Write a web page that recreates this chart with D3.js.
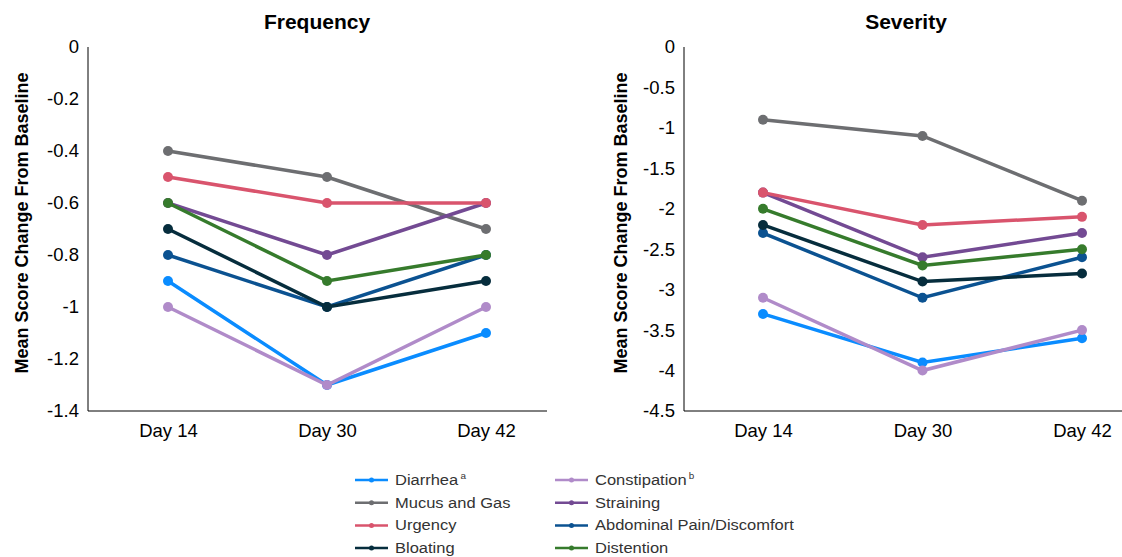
<!DOCTYPE html>
<html>
<head>
<meta charset="utf-8">
<script src="https://cdn.jsdelivr.net/npm/d3@7"></script>
<style>
  body { margin: 0; background: #fff; }
  svg { display: block; font-family: 'Liberation Sans', Arial, Helvetica, sans-serif; }
</style>
</head>
<body>
<div class="canvas"></div>
<script>
// categories and series (draw order = legend order, row-wise)
const days = ['Day 14', 'Day 30', 'Day 42']
const symptoms = ['Diarrhea', 'Constipation', 'Mucus and Gas', 'Straining',
  'Urgency', 'Abdominal Pain/Discomfort', 'Bloating', 'Distention']
const superscripts = ['a', 'b', '', '', '', '', '', '']
const colors = ['#0a8cff', '#b08bc9', '#6d6e71', '#734a93',
  '#d9546d', '#0b5291', '#062d3d', '#367b2c']

// mean score change from baseline, same order as symptoms
const frequencyValues = [
  [-0.9, -1.3, -1.1],
  [-1.0, -1.3, -1.0],
  [-0.4, -0.5, -0.7],
  [-0.6, -0.8, -0.6],
  [-0.5, -0.6, -0.6],
  [-0.8, -1.0, -0.8],
  [-0.7, -1.0, -0.9],
  [-0.6, -0.9, -0.8]
]
const severityValues = [
  [-3.3, -3.9, -3.6],
  [-3.1, -4.0, -3.5],
  [-0.9, -1.1, -1.9],
  [-1.8, -2.6, -2.3],
  [-1.8, -2.2, -2.1],
  [-2.3, -3.1, -2.6],
  [-2.2, -2.9, -2.8],
  [-2.0, -2.7, -2.5]
]
const frequencyTicks = [0, -0.2, -0.4, -0.6, -0.8, -1, -1.2, -1.4]
const severityTicks = [0, -0.5, -1, -1.5, -2, -2.5, -3, -3.5, -4, -4.5]

const svg = d3.select('.canvas')
  .append('svg')
  .attr('width', 1122)
  .attr('height', 557)

const plotTop = 47, plotBottom = 411

function drawPanel(opts) {
  const g = svg.append('g')

  const x = d3.scalePoint().domain(days).range([opts.firstX, opts.lastX])
  const y = d3.scaleLinear()
    .domain([d3.min(opts.ticks), 0])
    .range([plotBottom, plotTop])

  // axis lines
  g.append('path')
    .attr('d', `M${opts.axisX},${plotTop}V${plotBottom}H${opts.axisEnd}`)
    .attr('fill', 'none')
    .attr('stroke', '#000')
    .attr('stroke-width', 1)

  // y axis labels
  const yAxis = d3.axisLeft(y).tickValues(opts.ticks).tickSize(0).tickPadding(9)
    .tickFormat(d => String(d))
  const yg = g.append('g')
    .attr('transform', `translate(${opts.axisX},0)`)
    .call(yAxis)
  yg.select('.domain').remove()
  yg.selectAll('text')
    .attr('font-size', 18.5)
    .attr('fill', '#000')
  yg.attr('font-family', null)

  // x axis labels
  const xAxis = d3.axisBottom(x).tickSize(0).tickPadding(13)
  const xg = g.append('g')
    .attr('transform', `translate(0,${plotBottom})`)
    .call(xAxis)
  xg.select('.domain').remove()
  xg.selectAll('text')
    .attr('font-size', 18.5)
    .attr('fill', '#000')
  xg.attr('font-family', null)

  // title
  g.append('text')
    .attr('x', opts.titleX)
    .attr('y', 29)
    .attr('text-anchor', 'middle')
    .attr('font-weight', 'bold')
    .attr('font-size', 21)
    .text(opts.title)

  // y axis title
  g.append('text')
    .attr('transform', `translate(${opts.yTitleX},${(plotTop + plotBottom) / 2 - 6}) rotate(-90)`)
    .attr('text-anchor', 'middle')
    .attr('font-weight', 'bold')
    .attr('font-size', 18)
    .text('Mean Score Change From Baseline')

  const line = d3.line()
    .x((d, i) => x(days[i]))
    .y(d => y(d))

  opts.values.forEach((vals, s) => {
    const series = g.append('g')
    series.append('path')
      .datum(vals)
      .attr('fill', 'none')
      .attr('stroke', colors[s])
      .attr('stroke-width', 3.5)
      .attr('d', line)
    series.selectAll('circle')
      .data(vals)
      .enter()
      .append('circle')
        .attr('cx', (d, i) => x(days[i]))
        .attr('cy', d => y(d))
        .attr('r', 5)
        .attr('fill', colors[s])
  })
}

drawPanel({
  title: 'Frequency', titleX: 317, yTitleX: 28,
  axisX: 88, axisEnd: 547, firstX: 168, lastX: 486,
  ticks: frequencyTicks, values: frequencyValues
})

drawPanel({
  title: 'Severity', titleX: 906, yTitleX: 627,
  axisX: 684, axisEnd: 1122, firstX: 763, lastX: 1082,
  ticks: severityTicks, values: severityValues
})

// legend
const legend = svg.append('g')
symptoms.forEach((name, i) => {
  const col = i % 2, row = Math.floor(i / 2)
  const lx = 355 + col * 200
  const ly = 480 + row * 22.7
  const item = legend.append('g').attr('transform', `translate(${lx},${ly})`)
  item.append('line')
    .attr('x1', 0).attr('x2', 33)
    .attr('stroke', colors[i])
    .attr('stroke-width', 2.5)
  item.append('circle')
    .attr('cx', 16.5).attr('r', 2.5)
    .attr('fill', colors[i])
  const t = item.append('text')
    .attr('transform', 'translate(40,5) scale(1.1,1)')
    .attr('font-size', 15)
    .attr('fill', '#333')
    .text(name)
  if (superscripts[i]) {
    t.append('tspan')
      .attr('dx', 2)
      .attr('dy', -6)
      .attr('font-size', 9)
      .text(superscripts[i])
  }
})
</script>
</body>
</html>
